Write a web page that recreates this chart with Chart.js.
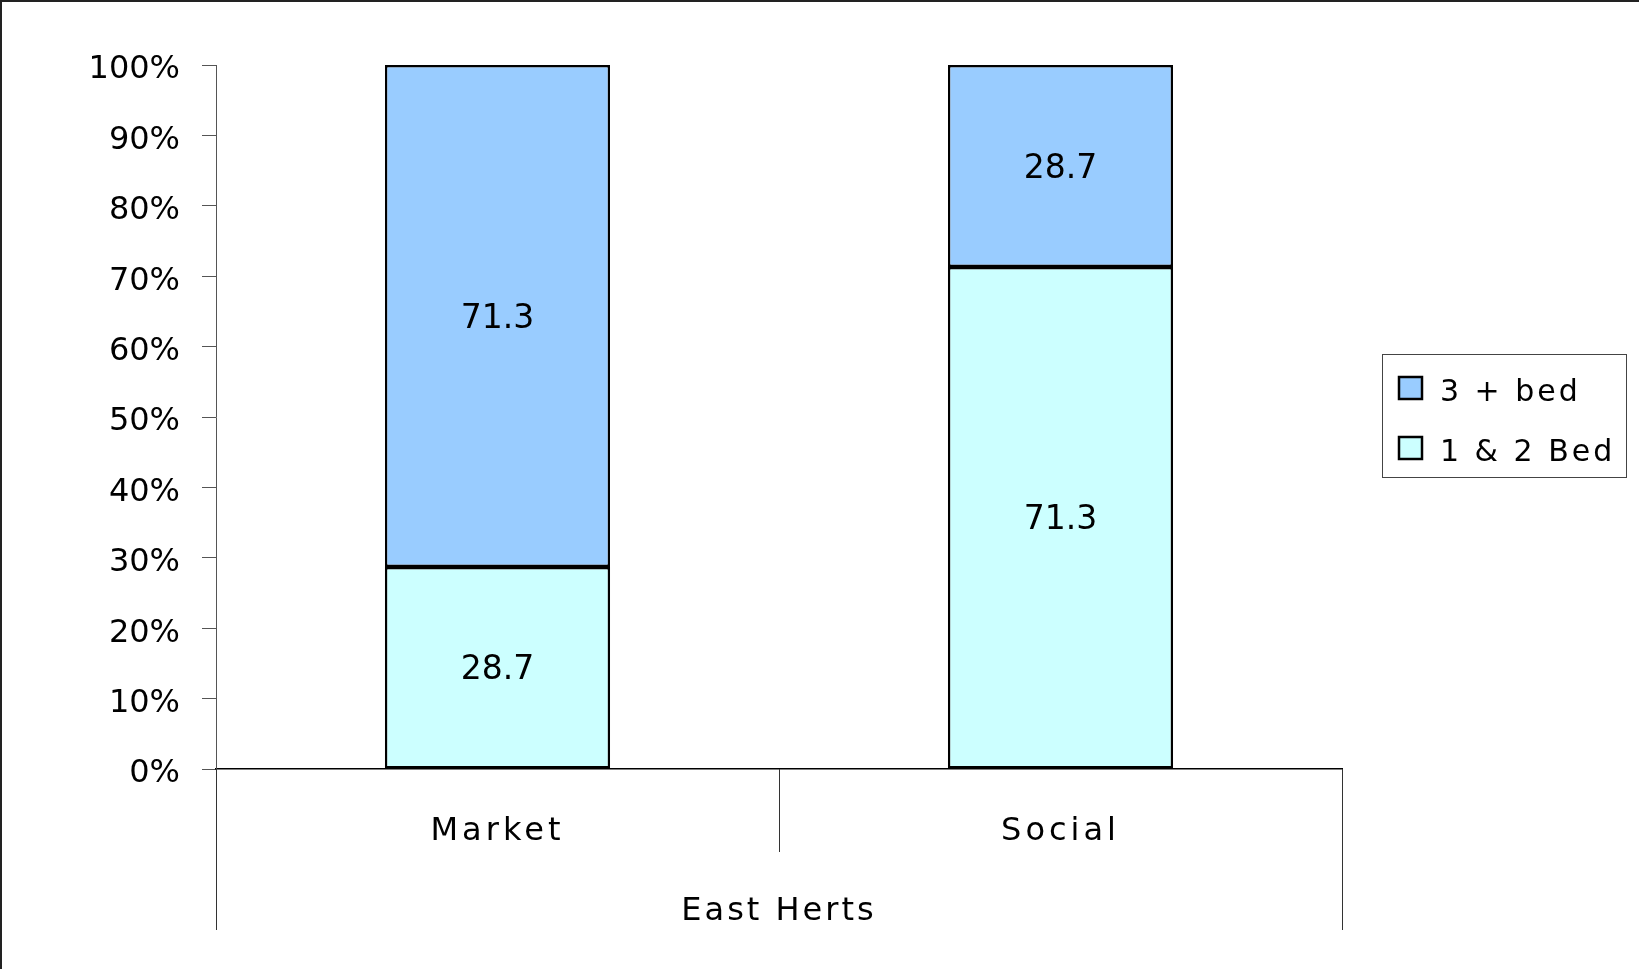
<!DOCTYPE html>
<html>
<head>
<meta charset="utf-8">
<script src="https://cdn.jsdelivr.net/npm/chart.js@4/dist/chart.umd.min.js"></script>
<style>
  body { margin: 0; background: #fff; }
  #wrap { width: 1639px; height: 969px; position: relative; }
</style>
</head>
<body>
<div id="wrap"><canvas id="tenureChart" width="1639" height="969"></canvas></div>
<script>
// chart data
const categories = ['Market', 'Social'];
const groupLabel = 'East Herts';
const seriesNames = ['1 & 2 Bed', '3 + bed'];
const oneTwoBed = [28.7, 71.3];
const threePlusBed = [71.3, 28.7];
const yMax = 100;
const yStep = 10;

const FONT = 'DejaVu Sans';

// white page with the thin frame on top and left
const framePlugin = {
    id: 'frame',
    beforeDraw(chart) {
        const ctx = chart.ctx;
        ctx.save();
        ctx.fillStyle = '#fff';
        ctx.fillRect(0, 0, chart.width, chart.height);
        ctx.fillStyle = '#222';
        ctx.fillRect(0, 0, chart.width, 2);
        ctx.fillRect(0, 0, 2, chart.height);
        ctx.restore();

        // wider letter spacing for the category labels
        const xs = chart.scales.x;
        if (xs && !xs._spaced) {
            const origLabels = xs.drawLabels.bind(xs);
            const origTitle = xs.drawTitle.bind(xs);
            xs.drawLabels = function (area) {
                chart.ctx.save();
                chart.ctx.letterSpacing = '4px';
                origLabels(area);
                chart.ctx.restore();
            };
            xs.drawTitle = function () {
                chart.ctx.save();
                chart.ctx.letterSpacing = '3px';
                origTitle();
                chart.ctx.restore();
            };
            xs._spaced = true;
        }
    }
};

// category separators under the x axis
const separatorPlugin = {
    id: 'separators',
    afterDraw(chart) {
        const xs = chart.scales.x;
        const ctx = chart.ctx;
        const top = xs.top;
        const mid = (xs.getPixelForTick(0) + xs.getPixelForTick(1)) / 2;
        ctx.save();
        ctx.strokeStyle = '#333';
        ctx.lineWidth = 1;
        [[xs.left, 930], [xs.right, 930], [mid, 852]].forEach(([x, bottom]) => {
            const px = Math.round(x) + 0.5;
            ctx.beginPath();
            ctx.moveTo(px, top);
            ctx.lineTo(px, bottom);
            ctx.stroke();
        });
        ctx.restore();
    }
};

// value labels in the middle of each segment
const valueLabelPlugin = {
    id: 'valueLabels',
    afterDatasetsDraw(chart) {
        const ctx = chart.ctx;
        ctx.save();
        ctx.font = '33px "' + FONT + '"';
        ctx.fillStyle = '#000';
        ctx.textAlign = 'center';
        ctx.textBaseline = 'middle';
        chart.data.datasets.forEach((ds, i) => {
            chart.getDatasetMeta(i).data.forEach((bar, j) => {
                const { x, y, base } = bar.getProps(['x', 'y', 'base'], true);
                ctx.fillText(ds.data[j].toFixed(1), x, (y + base) / 2 + 3);
            });
        });
        ctx.restore();
    }
};

// boxed legend on the right, top series first
const legendPlugin = {
    id: 'boxLegend',
    afterDraw(chart) {
        const ctx = chart.ctx;
        const box = { x: 1382, y: 354, w: 244, h: 123 };
        ctx.save();
        ctx.strokeStyle = '#444';
        ctx.lineWidth = 1;
        ctx.strokeRect(box.x + 0.5, box.y + 0.5, box.w, box.h);
        const items = chart.data.datasets.slice().reverse();
        ctx.font = '30px "' + FONT + '"';
        ctx.letterSpacing = '3px';
        ctx.textBaseline = 'middle';
        items.forEach((ds, i) => {
            const cy = 388 + i * 60;
            ctx.fillStyle = ds.backgroundColor;
            ctx.fillRect(1399, cy - 11, 23, 22);
            ctx.strokeStyle = '#000';
            ctx.lineWidth = 2.5;
            ctx.strokeRect(1399, cy - 11, 23, 22);
            ctx.fillStyle = '#000';
            ctx.fillText(ds.label, 1440, cy + 5);
        });
        ctx.restore();
    }
};

new Chart(document.getElementById('tenureChart'), {
    type: 'bar',
    data: {
        labels: categories,
        datasets: [
            {
                label: seriesNames[0],
                data: oneTwoBed,
                backgroundColor: '#CCFFFF',
                borderColor: '#000',
                borderWidth: 2.5,
                borderSkipped: false
            },
            {
                label: seriesNames[1],
                data: threePlusBed,
                backgroundColor: '#99CCFF',
                borderColor: '#000',
                borderWidth: 2.5,
                borderSkipped: false
            }
        ]
    },
    options: {
        responsive: false,
        animation: false,
        events: [],
        categoryPercentage: 1,
        barPercentage: 0.4,
        layout: {
            padding: { top: 65, right: 297, bottom: 0, left: 0 }
        },
        scales: {
            x: {
                stacked: true,
                afterFit: s => { s.height = 200; },
                grid: { display: false },
                border: { display: true, color: '#000', width: 1.5 },
                ticks: {
                    padding: 35,
                    color: '#000',
                    font: { family: FONT, size: 32 }
                },
                title: {
                    display: true,
                    text: groupLabel,
                    color: '#000',
                    font: { family: FONT, size: 32 },
                    padding: { top: 0, bottom: 38 }
                }
            },
            y: {
                stacked: true,
                min: 0,
                max: yMax,
                afterFit: s => { s.width = 216; },
                grid: {
                    drawOnChartArea: false,
                    drawTicks: true,
                    tickLength: 14,
                    color: '#555'
                },
                border: { display: true, color: '#555', width: 1 },
                ticks: {
                    stepSize: yStep,
                    padding: 22,
                    labelOffset: 5,
                    color: '#000',
                    font: { family: FONT, size: 32 },
                    callback: v => v + '%'
                }
            }
        },
        plugins: {
            legend: { display: false },
            tooltip: { enabled: false }
        }
    },
    plugins: [framePlugin, separatorPlugin, valueLabelPlugin, legendPlugin]
});
</script>
</body>
</html>
